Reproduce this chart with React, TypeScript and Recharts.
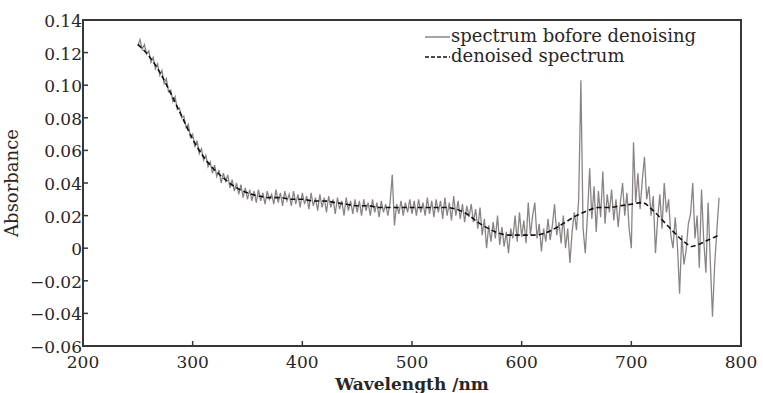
import React from "react";
import {
  LineChart,
  Line,
  XAxis,
  YAxis,
  ReferenceArea,
} from "recharts";

// Raw spectrum sampled every 2 nm starting at 250 nm
const rawStart = 250;
const rawStep = 2;
const rawAbsorbance = [
  0.124, 0.128, 0.122, 0.125, 0.119, 0.121, 0.114, 0.117, 0.110, 0.113,
  0.106, 0.109, 0.101, 0.104, 0.096, 0.097, 0.090, 0.093, 0.085, 0.086,
  0.080, 0.081, 0.074, 0.076, 0.068, 0.070, 0.062, 0.066, 0.058, 0.061,
  0.054, 0.057, 0.050, 0.053, 0.046, 0.051, 0.044, 0.048, 0.040, 0.046,
  0.041, 0.045, 0.037, 0.042, 0.035, 0.040, 0.033, 0.039, 0.031, 0.037,
  0.030, 0.036, 0.029, 0.035, 0.028, 0.036, 0.029, 0.034, 0.027, 0.035,
  0.030, 0.033, 0.027, 0.036, 0.028, 0.034, 0.026, 0.035, 0.029, 0.033,
  0.026, 0.035, 0.027, 0.033, 0.025, 0.034, 0.027, 0.032, 0.024, 0.034,
  0.026, 0.031, 0.023, 0.033, 0.025, 0.031, 0.022, 0.032, 0.025, 0.030,
  0.021, 0.031, 0.024, 0.029, 0.020, 0.031, 0.023, 0.029, 0.021, 0.030,
  0.022, 0.029, 0.020, 0.030, 0.023, 0.028, 0.020, 0.030, 0.022, 0.028,
  0.019, 0.029, 0.022, 0.027, 0.020, 0.028, 0.045, 0.014, 0.027, 0.021,
  0.029, 0.020, 0.028, 0.022, 0.030, 0.021, 0.029, 0.020, 0.030, 0.022,
  0.028, 0.020, 0.031, 0.021, 0.029, 0.019, 0.030, 0.022, 0.029, 0.018,
  0.031, 0.020, 0.028, 0.017, 0.032, 0.020, 0.029, 0.018, 0.027, 0.016,
  0.026, 0.019, 0.027, 0.016, 0.024, 0.012, 0.025, 0.008, 0.018, 0.000,
  0.014, 0.004, 0.016, 0.006, 0.020, 0.002, 0.013, 0.001, 0.010, -0.003,
  0.012, 0.006, 0.020, 0.004, 0.022, 0.007, 0.017, 0.003, 0.028, 0.008,
  0.020, 0.028, 0.006, 0.015, -0.002, 0.012, 0.004, 0.018, 0.005, 0.014,
  0.027, 0.008, 0.016, 0.003, 0.020, 0.000, 0.012, -0.009, 0.010, 0.022,
  0.011, 0.030, 0.103, 0.012, -0.003, 0.020, 0.049, 0.018, 0.038, 0.010,
  0.035, 0.019, 0.047, 0.015, 0.033, 0.022, 0.036, 0.017, 0.030, 0.013,
  0.028, 0.040, 0.020, 0.034, 0.012, 0.000, 0.065, 0.028, 0.046, 0.024,
  0.042, 0.056, 0.030, 0.038, 0.020, 0.032, -0.003, 0.018, 0.033, 0.012,
  0.040, 0.022, 0.030, 0.008, 0.000, 0.019, 0.002, -0.028, 0.008, -0.010,
  -0.001, 0.015, 0.021, 0.040, 0.006, 0.020, -0.012, 0.036, 0.005, -0.015,
  0.028, -0.008, -0.042, -0.010, 0.011, 0.031,
];

// Denoised spectrum
const denoisedWavelength = [
  250, 260, 270, 280, 290, 300, 310, 320, 330, 340, 350, 360, 370, 380, 390,
  400, 410, 420, 430, 440, 450, 460, 470, 480, 490, 500, 510, 520, 530, 540,
  550, 560, 570, 580, 590, 600, 610, 620, 630, 640, 650, 660, 670, 680, 690,
  700, 710, 720, 730, 740, 750, 755, 760, 770, 780,
];
const denoisedAbsorbance = [
  0.125, 0.118, 0.108, 0.095, 0.081, 0.067, 0.056, 0.048, 0.042, 0.037, 0.034,
  0.032, 0.031, 0.031, 0.030, 0.030, 0.029, 0.029, 0.028, 0.027, 0.026, 0.026,
  0.025, 0.025, 0.025, 0.025, 0.025, 0.025, 0.025, 0.024, 0.021, 0.016, 0.012,
  0.009, 0.008, 0.008, 0.008, 0.009, 0.012, 0.016, 0.020, 0.023, 0.025, 0.025,
  0.026, 0.027, 0.028, 0.023, 0.016, 0.009, 0.003, 0.001, 0.002, 0.005, 0.008,
];

const xTicks = [200, 300, 400, 500, 600, 700, 800];
const yTicks = [0.14, 0.12, 0.1, 0.08, 0.06, 0.04, 0.02, 0, -0.02, -0.04, -0.06];
const yTickLabels = [
  "0.14", "0.12", "0.10", "0.08", "0.06", "0.04", "0.02", "0",
  "\u22120.02", "\u22120.04", "\u22120.06",
];

const seriesNames = ["spectrum bofore denoising", "denoised spectrum"];

const rawData = rawAbsorbance.map((v, i) => ({ x: rawStart + rawStep * i, y: v }));
const denoisedData = denoisedWavelength.map((w, i) => ({ x: w, y: denoisedAbsorbance[i] }));

const FONT = "'DejaVu Serif', serif";
const AXIS = "#3b3636";
const TEXT = "#2a2626";

const XTick = (props: any) => {
  const { x, y, payload } = props;
  return (
    <g>
      <line x1={x} x2={x} y1={y} y2={y - 5} stroke={AXIS} strokeWidth={1.5} />
      <text x={x} y={y + 22} textAnchor="middle" fontFamily={FONT} fontSize={17} fill={TEXT}>
        {payload.value}
      </text>
    </g>
  );
};

const YTick = (props: any) => {
  const { x, y, payload } = props;
  const idx = yTicks.findIndex((t) => Math.abs(t - payload.value) < 1e-9);
  return (
    <g>
      <line x1={x} x2={x + 5} y1={y} y2={y} stroke={AXIS} strokeWidth={1.5} />
      <text x={x - 1} y={y + 7} textAnchor="end" fontFamily={FONT} fontSize={17} fill={TEXT}>
        {idx >= 0 ? yTickLabels[idx] : payload.value}
      </text>
    </g>
  );
};

const LegendBox = () => (
  <div
    style={{
      position: "absolute",
      top: 26,
      left: 424,
      fontFamily: FONT,
      fontSize: 18,
      color: TEXT,
      lineHeight: "20px",
      whiteSpace: "nowrap",
    }}
  >
    <div style={{ display: "flex", alignItems: "center" }}>
      <svg width={27} height={20}>
        <line x1={1} x2={26} y1={11} y2={11} stroke="#7a7272" strokeWidth={1.3} />
      </svg>
      <span>{seriesNames[0]}</span>
    </div>
    <div style={{ display: "flex", alignItems: "center" }}>
      <svg width={27} height={20}>
        <line x1={1} x2={26} y1={11} y2={11} stroke="#111" strokeWidth={1.5} strokeDasharray="4 2" />
      </svg>
      <span>{seriesNames[1]}</span>
    </div>
  </div>
);

export default function App() {
  return (
    <div style={{ position: "absolute", left: 0, top: 0, width: 763, height: 393, background: "#fff" }}>
      <LineChart
        width={763}
        height={393}
        margin={{ top: 20, right: 22, bottom: 0, left: 0 }}
      >
        <XAxis
          type="number"
          dataKey="x"
          domain={[200, 800]}
          ticks={xTicks}
          interval={0}
          height={47}
          tickSize={0}
          tickMargin={0}
          tickLine={false}
          axisLine={{ stroke: AXIS, strokeWidth: 2 }}
          tick={<XTick />}
          allowDataOverflow
          label={{
            value: "Wavelength /nm",
            position: "insideBottom",
            offset: 3,
            style: { fontFamily: FONT, fontSize: 17, fill: TEXT, fontWeight: 600 },
          }}
        />
        <YAxis
          type="number"
          dataKey="y"
          domain={[-0.06, 0.14]}
          ticks={yTicks}
          interval={0}
          width={83}
          tickSize={0}
          tickMargin={0}
          tickLine={false}
          axisLine={{ stroke: AXIS, strokeWidth: 2 }}
          tick={<YTick />}
          allowDataOverflow
          label={{
            value: "Absorbance",
            angle: -90,
            position: "insideLeft",
            offset: 12,
            style: { fontFamily: FONT, fontSize: 18, fill: TEXT, textAnchor: "middle" },
          }}
        />
        <ReferenceArea
          x1={200}
          x2={800}
          y1={-0.06}
          y2={0.14}
          fill="none"
          fillOpacity={0}
          stroke={AXIS}
          strokeWidth={2}
          ifOverflow="visible"
        />
        <Line
          data={rawData}
          dataKey="y"
          name={seriesNames[0]}
          type="linear"
          stroke="#8a8585"
          strokeWidth={1.3}
          dot={false}
          isAnimationActive={false}
        />
        <Line
          data={denoisedData}
          dataKey="y"
          name={seriesNames[1]}
          type="monotone"
          stroke="#111"
          strokeWidth={1.6}
          strokeDasharray="5 3"
          dot={false}
          isAnimationActive={false}
        />
      </LineChart>
      <LegendBox />
    </div>
  );
}
